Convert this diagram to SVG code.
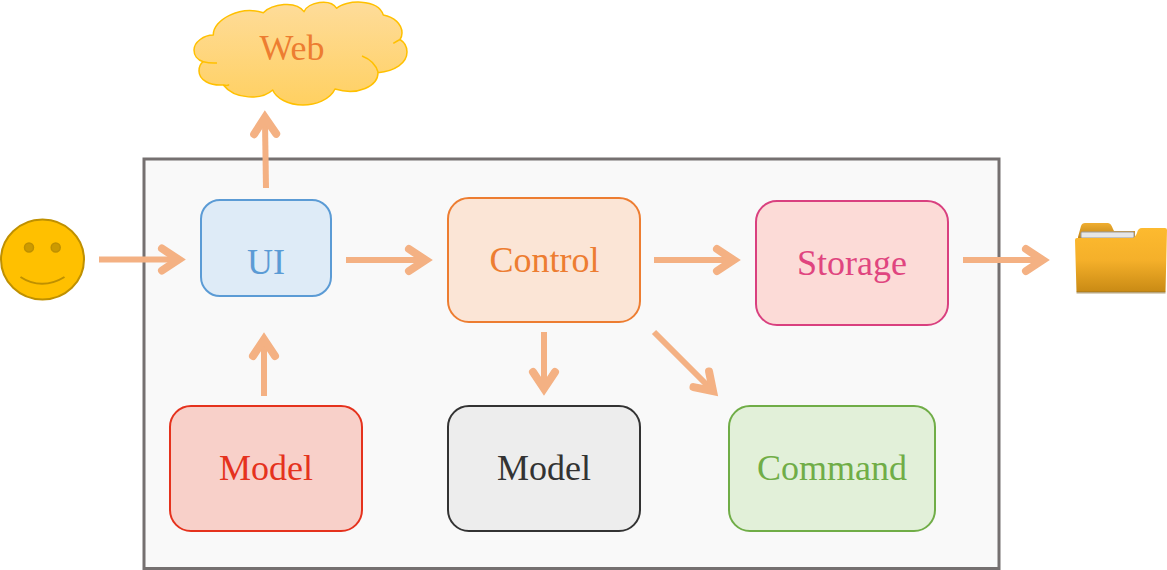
<svg xmlns="http://www.w3.org/2000/svg" width="1167" height="570" viewBox="0 0 1167 570">
<style>
text{font-family:"Liberation Serif","Times New Roman",serif;font-size:36px;text-anchor:middle}
.box{stroke-width:2}
.conn{fill:none;stroke:#f4b183;stroke-width:6}
.lobe{fill:none;stroke:#ffc000;stroke-width:1.500}
</style>
<defs>
<marker id="arrow" markerUnits="userSpaceOnUse" markerWidth="40" markerHeight="40" viewBox="-30 -20 40 40" refX="-6" refY="0" orient="auto" overflow="visible">
<path d="M-24 -11 L-7.400 0 L-24 11" fill="none" stroke="#f4b183" stroke-width="8" stroke-linecap="round" stroke-linejoin="miter" stroke-miterlimit="10"/>
</marker>
<linearGradient id="cloudG" x1="0" y1="0" x2="0" y2="1"><stop offset="0" stop-color="#fedc9a"/><stop offset="1" stop-color="#ffd061"/></linearGradient>
<linearGradient id="folderG" x1="0" y1="0" x2="0" y2="1"><stop offset="0" stop-color="#fdba2f"/><stop offset="0.5" stop-color="#f5b02a"/><stop offset="1" stop-color="#c98a14"/></linearGradient>
<linearGradient id="tabG" x1="0" y1="0" x2="0" y2="1"><stop offset="0" stop-color="#f0ae30"/><stop offset="1" stop-color="#c08418"/></linearGradient>
</defs>
<rect id="container" x="144" y="159" width="855" height="409.500" fill="#f9f9f9" stroke="#757070" stroke-width="3"/>
<g id="connectors" class="conn">
<path d="M99 259.500H180" marker-end="url(#arrow)"/>
<path d="M346 260H427" marker-end="url(#arrow)"/>
<path d="M654 260H735" marker-end="url(#arrow)"/>
<path d="M963 260H1044" marker-end="url(#arrow)"/>
<path d="M266 188L264.900 116" marker-end="url(#arrow)"/>
<path d="M264 396V338" marker-end="url(#arrow)"/>
<path d="M544 332V390" marker-end="url(#arrow)"/>
<path d="M654 332L714 392" marker-end="url(#arrow)"/>
</g>
<g id="web">
<path d="M213.300 35C213 20 240 5 263.300 12.700C272 4 296 0 304 11.700C308 2 330 -2 336.700 8.300C345 0 378 -2 383.300 15C394 17 402 24 402 33C402 36 401 38 400 39.500C404 42 407 47 407 52C407 63 395 71 378 72.700C378 86 358 96 335 89C330 100 315 105 303 105C288 105 276 98 272.700 90C262 100 235 100 223.300 85C210 86 199 80 199 71C199 67 200 64 203.300 61.700C197 60 194 55 194 50C194 42 204 35 213.300 35Z" fill="url(#cloudG)" stroke="#ffc000" stroke-width="1.500" stroke-linejoin="round"/>
<path class="lobe" d="M203.300 61.700Q210 63.500 217 63"/>
<path class="lobe" d="M362 56Q375 61 378.300 72.700"/>
<path class="lobe" d="M223.300 85Q228 86 229 84.500"/>
<path class="lobe" d="M393.300 43.300Q397 41 400 39.500"/>
<text x="292" y="60" fill="#ed7d31">Web</text>
</g>
<g id="user">
<ellipse cx="42.500" cy="259.500" rx="41.500" ry="40" fill="#ffc000" stroke="#bf9000" stroke-width="2"/>
<circle cx="29" cy="247.500" r="4.500" fill="#cc9a00" stroke="#bf9000" stroke-width="1.500"/>
<circle cx="55.700" cy="247.500" r="4.500" fill="#cc9a00" stroke="#bf9000" stroke-width="1.500"/>
<path d="M20.500 277C34 286 50 286 64.500 277" fill="none" stroke="#bf9000" stroke-width="2"/>
</g>
<g id="folder">
<path d="M1078 237L1081 226Q1082 223 1085 223H1108Q1111 223 1113 229L1114 231H1135V238H1078Z" fill="url(#tabG)"/>
<rect x="1081" y="232" width="53" height="6" rx="1" fill="#e6e6e6" stroke="#9a9a9a" stroke-width="1"/>
<path d="M1077 238H1132Q1135 238 1137 233Q1138 228 1142 228H1165Q1167 228 1167 230L1165.500 292H1076.500L1075 240Q1075 238 1077 238Z" fill="url(#folderG)"/>
<rect x="1076.500" y="291.500" width="89" height="2" fill="#8a6a2a" opacity="0.600"/>
</g>
<g id="ui">
<rect class="box" x="201" y="200" width="130" height="96" rx="19" fill="#deebf7" stroke="#5b9bd5"/>
<text x="266" y="274" fill="#5b9bd5">UI</text>
</g>
<g id="control">
<rect class="box" x="448" y="198" width="192" height="124" rx="21" fill="#fbe5d6" stroke="#ed7d31"/>
<text x="544.500" y="272" fill="#ed7d31">Control</text>
</g>
<g id="storage">
<rect class="box" x="756" y="201" width="192" height="124" rx="21" fill="#fcdbd7" stroke="#d9407f"/>
<text x="852" y="275" fill="#e0457f">Storage</text>
</g>
<g id="model-red">
<rect class="box" x="170" y="406" width="192" height="125" rx="21" fill="#f8d0c9" stroke="#e5321d"/>
<text x="266" y="480" fill="#e5321d">Model</text>
</g>
<g id="model-gray">
<rect class="box" x="448" y="406" width="192" height="125" rx="21" fill="#ededed" stroke="#333333"/>
<text x="544" y="480" fill="#333333">Model</text>
</g>
<g id="command">
<rect class="box" x="729" y="406" width="206" height="125" rx="21" fill="#e2f0d9" stroke="#70ad47"/>
<text x="832" y="480" fill="#70ad47">Command</text>
</g>
</svg>
